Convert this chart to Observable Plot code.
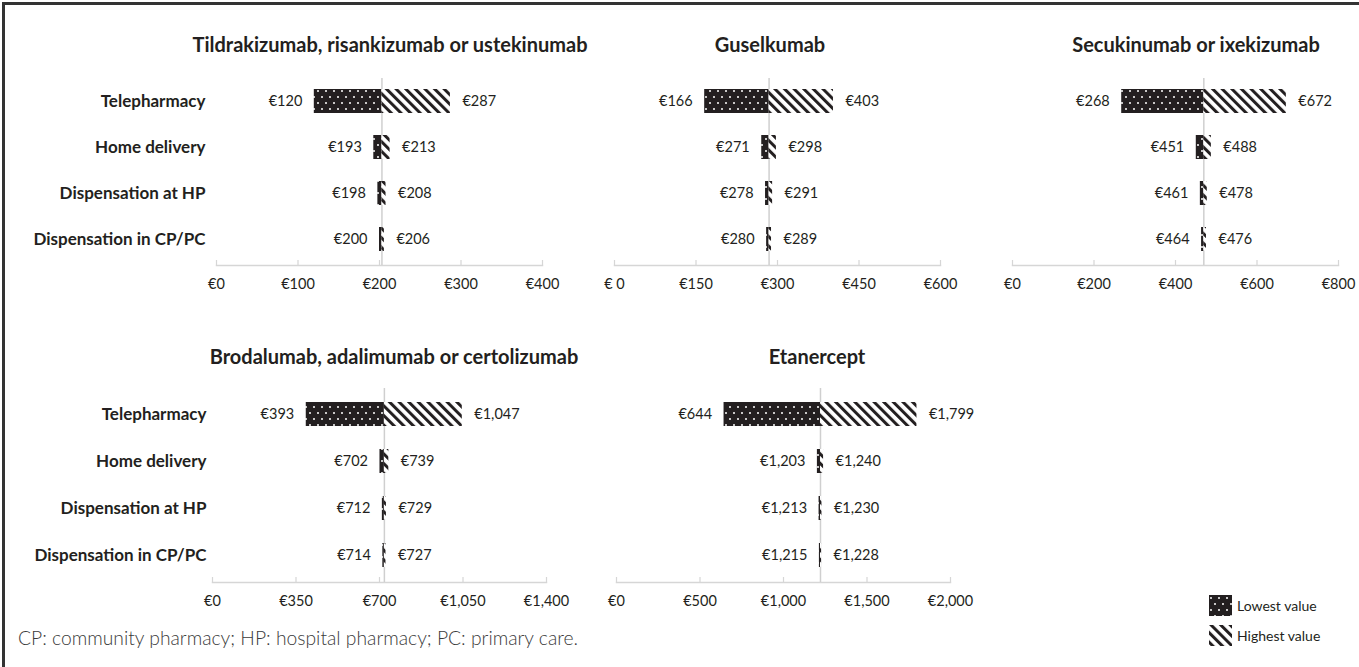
<!DOCTYPE html>
<html><head><meta charset="utf-8">
<script src="https://cdn.jsdelivr.net/npm/d3@7"></script>
<script src="https://cdn.jsdelivr.net/npm/@observablehq/plot@0.6"></script>
<style>
body{margin:0;background:#fff;}
#root{position:relative;width:1359px;height:667px;overflow:hidden;font-family:Lato,"Open Sans",sans-serif;color:#231f20;background:#fff;}
#frame{position:absolute;left:2px;top:2px;right:-10px;bottom:-10px;border-top:3px solid #333;border-left:3px solid #333;}
.title{position:absolute;transform:translate(-50%,-50%);font-weight:700;font-size:20px;white-space:nowrap;}
.panel{position:absolute;}
#caption{position:absolute;left:18px;top:626px;font-size:19.3px;color:#3a3a3a;white-space:nowrap;font-weight:300;}
.leg{position:absolute;left:1209px;display:flex;align-items:center;font-size:14px;white-space:nowrap;}
.leg svg{margin-right:5px;}
</style></head>
<body>
<svg width="0" height="0" style="position:absolute">
<defs>
<pattern id="dots" patternUnits="userSpaceOnUse" width="8" height="12">
 <rect width="8" height="12" fill="#231f20"/>
 <circle cx="2" cy="3" r="1" fill="#fff"/>
 <circle cx="6" cy="9" r="1" fill="#fff"/>
</pattern>
<pattern id="hatch" patternUnits="userSpaceOnUse" width="6.8" height="6.8" patternTransform="rotate(-45)">
 <rect width="6.8" height="6.8" fill="#fff"/>
 <rect width="3" height="6.8" fill="#231f20"/>
</pattern>
</defs></svg>
<div id="root"><div id="frame"></div></div>
<script>
// ---- data ----
const routes = ["Telepharmacy", "Home delivery", "Dispensation at HP", "Dispensation in CP/PC"];
const drugs = ["Tildrakizumab, risankizumab or ustekinumab", "Guselkumab", "Secukinumab or ixekizumab", "Brodalumab, adalimumab or certolizumab", "Etanercept"];
const lowValues = [
  [120, 193, 198, 200],
  [166, 271, 278, 280],
  [268, 451, 461, 464],
  [393, 702, 712, 714],
  [644, 1203, 1213, 1215]
];
const highValues = [
  [287, 213, 208, 206],
  [403, 298, 291, 289],
  [672, 488, 478, 476],
  [1047, 739, 729, 727],
  [1799, 1240, 1230, 1228]
];
const baseValues = [203, 284.5, 469.5, 720.5, 1221.5];
const axisMax = [400, 600, 800, 1400, 2000];
const tickValues = [
  [0, 100, 200, 300, 400],
  [0, 150, 300, 450, 600],
  [0, 200, 400, 600, 800],
  [0, 350, 700, 1050, 1400],
  [0, 500, 1000, 1500, 2000]
];
const tickLabels = [
  ["€0", "€100", "€200", "€300", "€400"],
  ["€ 0", "€150", "€300", "€450", "€600"],
  ["€0", "€200", "€400", "€600", "€800"],
  ["€0", "€350", "€700", "€1,050", "€1,400"],
  ["€0", "€500", "€1,000", "€1,500", "€2,000"]
];
const legendLabels = ["Lowest value", "Highest value"];
const captionText = "CP: community pharmacy; HP: hospital pharmacy; PC: primary care.";

// ---- layout ----
const layout = [
  {left: 0,   top: 70,  w: 600, h: 230, ml: 216, mr: 58, mt: 8, mb: 35, r0: 6.75, step: 46.5, showY: true, pad: 11, tx: 390, ty: 44},
  {left: 600, top: 70,  w: 380, h: 230, ml: 14,  mr: 40, mt: 8, mb: 35, r0: 6.75, step: 46.5, showY: false, tx: 770, ty: 44},
  {left: 980, top: 70,  w: 379, h: 230, ml: 32,  mr: 21, mt: 8, mb: 35, r0: 6.75, step: 46.5, showY: false, tx: 1196, ty: 44},
  {left: 0,   top: 380, w: 600, h: 240, ml: 212, mr: 54, mt: 8, mb: 38, r0: 10.5, step: 47, showY: true, pad: 6, tx: 394, ty: 356},
  {left: 600, top: 380, w: 420, h: 240, ml: 16,  mr: 70, mt: 8, mb: 38, r0: 10.5, step: 47, showY: false, tx: 817, ty: 356}
];
const FONT = "Lato, 'Open Sans', sans-serif";
const fmt = v => "€" + d3.format(",")(v);
const root = document.getElementById("root");

drugs.forEach((drug, i) => {
  const L = layout[i];
  const rows = routes.map((r, k) => ({route: r, low: lowValues[i][k], high: highValues[i][k], base: baseValues[i]}));
  const pi = 1 - 24 / L.step;
  const plotH = L.h - L.mt - L.mb;
  const chart = Plot.plot({
    width: L.w, height: L.h,
    marginLeft: L.ml, marginRight: L.mr, marginTop: L.mt, marginBottom: L.mb,
    style: {fontFamily: FONT, fontSize: "14.5px", color: "#231f20", background: "transparent", overflow: "visible"},
    x: {domain: [0, axisMax[i]]},
    y: {domain: routes, range: [L.r0, L.r0 + 4 * L.step], paddingInner: pi, paddingOuter: pi / 2, ...(L.showY ? {} : {axis: null})},
    marks: [
      Plot.frame({anchor: "bottom", stroke: "#d6d6d6", strokeWidth: 1.5}),
      Plot.gridX({ticks: tickValues[i], stroke: "#d6d6d6", strokeOpacity: 1, strokeWidth: 1.2, insetTop: plotH - 5}),
      Plot.axisX({ticks: tickValues[i], tickSize: 0, tickPadding: 13, fontSize: 14.5, label: null,
        tickFormat: d => tickLabels[i][tickValues[i].indexOf(d)]}),
      Plot.ruleX([baseValues[i]], {stroke: "#cfcfcf", strokeWidth: 1.5}),
      Plot.barX(rows, {x1: "low", x2: "base", y: "route", fill: "url(#dots)"}),
      Plot.barX(rows, {x1: "base", x2: "high", y: "route", fill: "url(#hatch)"}),
      Plot.text(rows, {x: "low", y: "route", text: d => fmt(d.low), textAnchor: "end", dx: -12, fontSize: 14.5}),
      Plot.text(rows, {x: "high", y: "route", text: d => fmt(d.high), textAnchor: "start", dx: 12, fontSize: 14.5}),
      L.showY ? Plot.axisY({tickSize: 0, tickPadding: L.pad, fontWeight: "bold", fontSize: 17, label: null}) : null
    ]
  });
  chart.classList.add("panel");
  chart.style.left = L.left + "px";
  chart.style.top = L.top + "px";
  root.appendChild(chart);
  const t = document.createElement("div");
  t.className = "title";
  t.textContent = drug;
  t.style.left = L.tx + "px";
  t.style.top = L.ty + "px";
  root.appendChild(t);
});

const cap = document.createElement("div");
cap.id = "caption";
cap.textContent = captionText;
root.appendChild(cap);

legendLabels.forEach((lab, k) => {
  const d = document.createElement("div");
  d.className = "leg";
  d.style.top = (k === 0 ? 595 : 625) + "px";
  d.innerHTML = `<svg width="23" height="21"><rect width="23" height="21" fill="url(#${k === 0 ? "dots" : "hatch"})"/></svg><span>${lab}</span>`;
  root.appendChild(d);
});
</script>
</body></html>
